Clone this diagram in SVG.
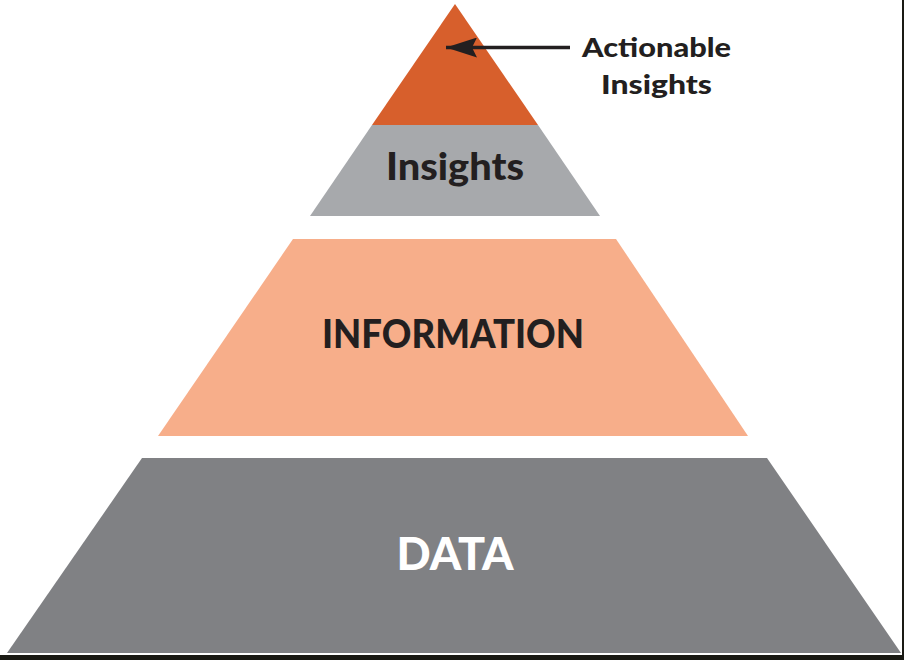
<svg xmlns="http://www.w3.org/2000/svg" width="904" height="660" viewBox="0 0 904 660">
  <style>
    .lbl { font-family: "Lato", "Liberation Sans", sans-serif; font-weight: 900; text-anchor: middle; }
    .dark { fill: #231F20; }
    .light { fill: #FFFFFF; }
  </style>
  <defs>
    <marker id="arrowHead" viewBox="0 0 31 20" refX="31" refY="10" markerWidth="31" markerHeight="20" markerUnits="userSpaceOnUse" orient="auto">
      <path d="M0,0 L31,10 L0,20 L5,10 Z" fill="#231F20"/>
    </marker>
  </defs>
  <rect x="0" y="0" width="904" height="660" fill="#FFFFFF"/>

  <g id="actionable-insights">
    <polygon points="455,4 538,125 372,125" fill="#D75F2C"/>
  </g>
  <g id="insights">
    <polygon points="372,125 538,125 600,216 310,216" fill="#A7A9AC"/>
    <text class="lbl dark" x="455" y="180" font-size="37" textLength="138" lengthAdjust="spacingAndGlyphs">Insights</text>
  </g>
  <g id="information">
    <polygon points="293,239 616,239 748,436 158,436" fill="#F7AE8A"/>
    <text class="lbl dark" x="453" y="348" font-size="39" textLength="262" lengthAdjust="spacingAndGlyphs">INFORMATION</text>
  </g>
  <g id="data">
    <polygon points="142,458 767,458 901,653 7,653" fill="#808184"/>
    <text class="lbl light" x="455" y="570" font-size="46" textLength="117" lengthAdjust="spacingAndGlyphs">DATA</text>
  </g>
  <g id="label-actionable">
    <text class="lbl dark" x="656.5" y="57" font-size="26" textLength="149" lengthAdjust="spacingAndGlyphs">Actionable</text>
    <text class="lbl dark" x="656.5" y="94" font-size="26" textLength="111" lengthAdjust="spacingAndGlyphs">Insights</text>
  </g>

  <g id="connectors">
    <line x1="570" y1="47.5" x2="446" y2="47.5" stroke="#231F20" stroke-width="3.5" marker-end="url(#arrowHead)"/>
  </g>

  <g id="frame">
    <rect x="0" y="655" width="904" height="5" fill="#1A1A14"/>
    <rect x="902" y="0" width="2" height="660" fill="#1A1A14"/>
  </g>
</svg>
